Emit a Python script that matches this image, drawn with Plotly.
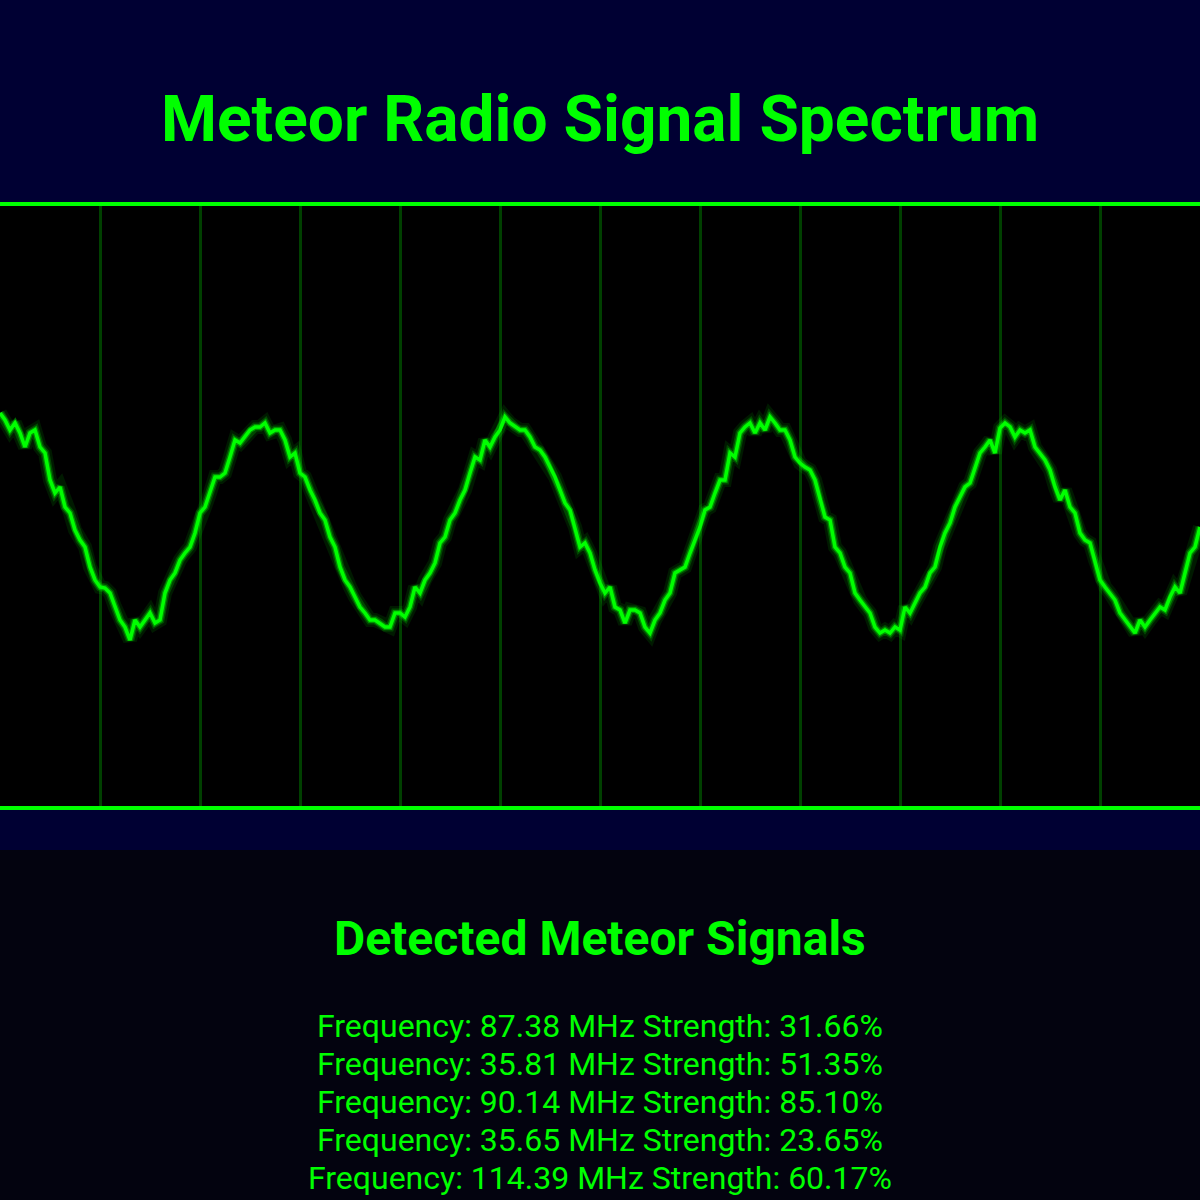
import plotly.graph_objects as go

# ---------------- data ----------------
sample_index = list(range(0, 241))
amplitude = [
    0.92, 0.85, 0.75, 0.82, 0.72, 0.58, 0.72, 0.75, 0.58, 0.52,
    0.25, 0.12, 0.18, -0.02, -0.08, -0.25, -0.35, -0.42, -0.62, -0.75,
    -0.82, -0.83, -0.88, -1.02, -1.15, -1.22, -1.35, -1.15, -1.22, -1.15,
    -1.08, -1.18, -1.15, -0.88, -0.75, -0.68, -0.55, -0.48, -0.42, -0.28,
    -0.08,
    -0.02, 0.12, 0.28, 0.28, 0.32, 0.48, 0.65, 0.62, 0.68, 0.75,
    0.78, 0.78, 0.82, 0.72, 0.75, 0.75, 0.65, 0.48, 0.52, 0.32,
    0.28, 0.15, 0.05, -0.08, -0.15, -0.32, -0.42, -0.62, -0.75, -0.82,
    -0.92, -1.02, -1.08, -1.15, -1.15, -1.18, -1.22, -1.22, -1.08, -1.08,
    -1.12, -1.02, -0.82, -0.88, -0.75, -0.68, -0.58, -0.38, -0.32, -0.15,
    -0.08, 0.05, 0.15, 0.32, 0.48, 0.45, 0.65, 0.58, 0.68, 0.75,
    0.88, 0.82, 0.78, 0.75, 0.75, 0.68, 0.58, 0.55, 0.48, 0.38,
    0.28, 0.15, 0.02, -0.05, -0.22, -0.42, -0.38, -0.48, -0.65, -0.78,
    -0.88, -0.82, -1.02, -1.05, -1.18, -1.05, -1.05, -1.08, -1.22, -1.28,
    -1.15, -1.08, -0.95, -0.88, -0.68, -0.65, -0.62, -0.48, -0.35, -0.22,
    -0.05, -0.02, 0.12, 0.25, 0.25, 0.52, 0.48, 0.72, 0.78, 0.82,
    0.72, 0.82, 0.75, 0.88, 0.82, 0.75, 0.75, 0.65, 0.48, 0.42,
    0.38, 0.35, 0.25, 0.05, -0.12, -0.15, -0.42, -0.48, -0.62, -0.68,
    -0.88, -0.95, -1.02, -1.08, -1.22, -1.28, -1.25, -1.28, -1.22, -1.25,
    -1.02, -1.08, -0.98, -0.88, -0.82, -0.68, -0.62, -0.42, -0.28, -0.18,
    -0.02, 0.08, 0.18, 0.22, 0.38, 0.52, 0.58, 0.65, 0.52, 0.77,
    0.82, 0.78, 0.68, 0.75, 0.72, 0.75, 0.58, 0.52, 0.45, 0.35,
    0.18, 0.05, 0.15, -0.02, -0.08, -0.28, -0.35, -0.38, -0.55, -0.75,
    -0.82, -0.88, -0.95, -1.08, -1.15, -1.22, -1.28, -1.15, -1.22, -1.15,
    -1.08, -1.02, -1.05, -0.92, -0.82, -0.88, -0.68, -0.48, -0.42, -0.22,
]

signal_freq_mhz = [87.38, 35.81, 90.14, 35.65, 114.39]
signal_strength_pct = [31.66, 51.35, 85.10, 23.65, 60.17]

title_text = "Meteor Radio Signal Spectrum"
list_title = "Detected Meteor Signals"

# ---------------- style ----------------
GREEN = "#00ff00"
NAVY = "#000033"
DARK = "#03030f"
FONT = "Roboto"

M_TOP, M_BOT = 204, 392
PLOT_H = 1200 - M_TOP - M_BOT


def py(px):
    """pixel y (from top) -> paper y"""
    return (1200 - M_BOT - px) / PLOT_H


fig = go.Figure()

# glow layers + main line
for w, op in [(14, 0.10), (9, 0.20), (6, 0.40)]:
    fig.add_trace(go.Scatter(x=sample_index, y=amplitude, mode="lines",
                             line=dict(color=GREEN, width=w), opacity=op,
                             hoverinfo="skip", showlegend=False))
fig.add_trace(go.Scatter(x=sample_index, y=amplitude, mode="lines",
                         line=dict(color=GREEN, width=3.5),
                         showlegend=False, name="signal"))

shapes = [
    dict(type="rect", xref="paper", yref="paper", x0=0, x1=1,
         y0=py(850), y1=py(0), fillcolor=NAVY, line_width=0, layer="below"),
    dict(type="rect", xref="paper", yref="paper", x0=0, x1=1,
         y0=0, y1=1, fillcolor="#000000", line_width=0, layer="below"),
    dict(type="line", xref="paper", yref="paper", x0=0, x1=1, y0=1, y1=1,
         line=dict(color=GREEN, width=4)),
    dict(type="line", xref="paper", yref="paper", x0=0, x1=1, y0=0, y1=0,
         line=dict(color=GREEN, width=4)),
]

annotations = [
    dict(text=f"<b>{title_text}</b>", x=0.5, y=py(119), xref="paper", yref="paper",
         showarrow=False, xanchor="center", yanchor="middle",
         font=dict(family=FONT, size=64, color=GREEN)),
    dict(text=f"<b>{list_title}</b>", x=0.5, y=py(938), xref="paper", yref="paper",
         showarrow=False, xanchor="center", yanchor="middle",
         font=dict(family=FONT, size=48, color=GREEN)),
]
for i, (f, s) in enumerate(zip(signal_freq_mhz, signal_strength_pct)):
    annotations.append(dict(
        text=f"Frequency: {f:.2f} MHz Strength: {s:.2f}%",
        x=0.5, y=py(1026 + 38 * i), xref="paper", yref="paper",
        showarrow=False, xanchor="center", yanchor="middle",
        font=dict(family=FONT, size=32, color=GREEN)))

fig.update_layout(
    width=1200, height=1200,
    margin=dict(l=0, r=0, t=M_TOP, b=M_BOT, pad=0),
    paper_bgcolor=DARK, plot_bgcolor="rgba(0,0,0,0)",
    shapes=shapes, annotations=annotations,
    xaxis=dict(range=[0, 240], dtick=20, tick0=0, showgrid=True,
               gridcolor="rgba(0,255,0,0.25)", gridwidth=3,
               zeroline=False, showticklabels=False, ticks="", showline=False),
    yaxis=dict(range=[-3.03, 3.01], showgrid=False, zeroline=False,
               showticklabels=False, ticks="", showline=False),
    hovermode=False,
)

fig.write_html("out.html",
               config={"displayModeBar": False, "staticPlot": True},
               post_script="document.body.style.margin='0';"
                           "document.body.style.overflow='hidden';")
